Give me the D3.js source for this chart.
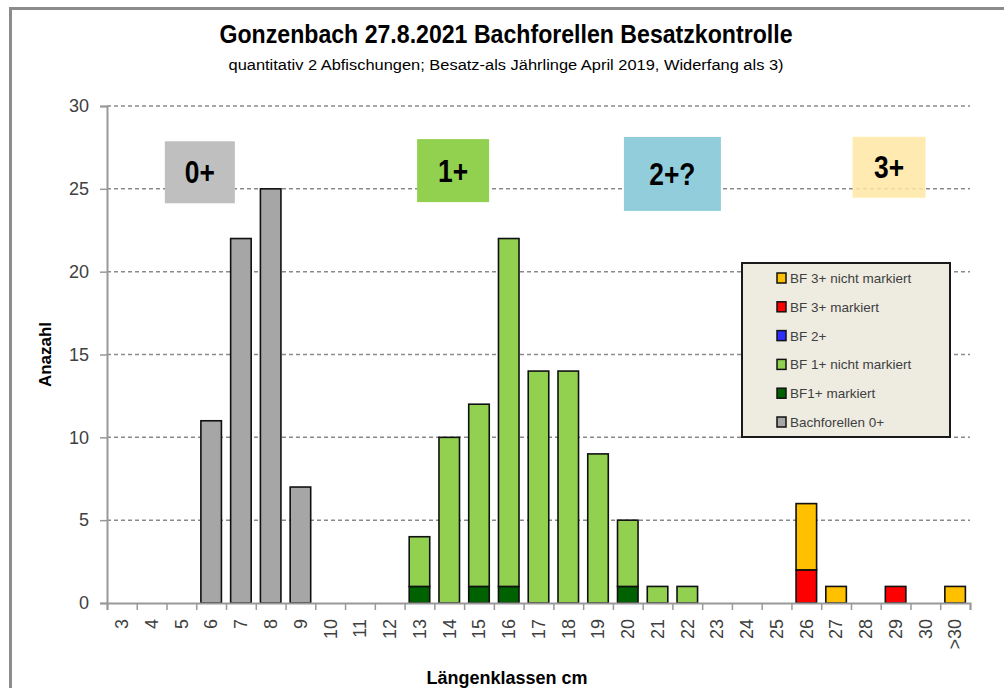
<!DOCTYPE html>
<html>
<head>
<meta charset="utf-8">
<script src="https://cdn.jsdelivr.net/npm/d3@7"></script>
<style>
  body { margin: 0; background: #fff; }
  text { font-family: "Liberation Sans", Arial, sans-serif; }
</style>
</head>
<body>
<div id="chart"></div>
<script>
const categories = ["3","4","5","6","7","8","9","10","11","12","13","14","15","16","17","18","19","20","21","22","23","24","25","26","27","28","29","30",">30"];
const bf0     = [0,0,0,11,22,25,7,0,0,0,0,0,0,0,0,0,0,0,0,0,0,0,0,0,0,0,0,0,0];
const bf1Mark = [0,0,0,0,0,0,0,0,0,0,1,0,1,1,0,0,0,1,0,0,0,0,0,0,0,0,0,0,0];
const bf1Nm   = [0,0,0,0,0,0,0,0,0,0,3,10,11,21,14,14,9,4,1,1,0,0,0,0,0,0,0,0,0];
const bf2     = [0,0,0,0,0,0,0,0,0,0,0,0,0,0,0,0,0,0,0,0,0,0,0,0,0,0,0,0,0];
const bf3Mark = [0,0,0,0,0,0,0,0,0,0,0,0,0,0,0,0,0,0,0,0,0,0,0,2,0,0,1,0,0];
const bf3Nm   = [0,0,0,0,0,0,0,0,0,0,0,0,0,0,0,0,0,0,0,0,0,0,0,4,1,0,0,0,1];
const seriesNames = ["Bachforellen 0+","BF1+ markiert","BF 1+ nicht markiert","BF 2+","BF 3+ markiert","BF 3+ nicht markiert"];
const seriesColors = ["#a6a6a6","#006100","#92d050","#2e2eff","#ff0000","#ffc000"];
const yTicks = [0,5,10,15,20,25,30];
// age group boxes: label, centre in category units, centre value, colour
const ageLabels = ["0+","1+","2+?","3+"];
const agePos = [3.12, 11.63, 19.0, 26.28];
const ageVal = [26.0, 26.1, 25.9, 26.3];
const ageSize = [[70,62],[72,63],[97,74],[73,61]];
const ageColors = ["#bfbfbf","#92d050","#92cddc","#ffe8a3"];

const width = 1004, height = 688;
const margin = {left: 107, right: 34, top: 106, bottom: 85};

const svg = d3.select("#chart").append("svg")
  .attr("width", width).attr("height", height);

// outer chart frame
svg.append("rect")
  .attr("x", 10.5).attr("y", 8.5)
  .attr("width", width + 20).attr("height", height + 20)
  .attr("fill", "#fff").attr("stroke", "#8c8c8c").attr("stroke-width", 3);

const table = categories.map((c, i) => ({
  cat: c,
  "Bachforellen 0+": bf0[i],
  "BF1+ markiert": bf1Mark[i],
  "BF 1+ nicht markiert": bf1Nm[i],
  "BF 2+": bf2[i],
  "BF 3+ markiert": bf3Mark[i],
  "BF 3+ nicht markiert": bf3Nm[i]
}));

const x = d3.scaleBand().domain(categories)
  .range([margin.left, width - margin.right]).paddingInner(0.31).paddingOuter(0.155);
const xi = d3.scaleLinear().domain([0, categories.length])
  .range([margin.left, width - margin.right]);
const y = d3.scaleLinear().domain([0, 30]).range([height - margin.bottom, margin.top]);
const color = d3.scaleOrdinal().domain(seriesNames).range(seriesColors);

// gridlines
svg.append("g").selectAll("line")
  .data(yTicks.filter(d => d > 0))
  .join("line")
  .attr("x1", margin.left).attr("x2", width - margin.right)
  .attr("y1", d => y(d)).attr("y2", d => y(d))
  .attr("stroke", "#8a8a8a").attr("stroke-width", 1.5)
  .attr("stroke-dasharray", "4,3");

// age group boxes
const boxes = svg.append("g").selectAll("g")
  .data(ageLabels).join("g");
boxes.append("rect")
  .attr("x", (d, i) => xi(agePos[i]) - ageSize[i][0] / 2)
  .attr("y", (d, i) => y(ageVal[i]) - ageSize[i][1] / 2)
  .attr("width", (d, i) => ageSize[i][0])
  .attr("height", (d, i) => ageSize[i][1])
  .attr("fill", (d, i) => ageColors[i])
  .attr("fill-opacity", (d, i) => i === 3 ? 0.85 : 1);
boxes.append("text")
  .attr("x", (d, i) => xi(agePos[i]))
  .attr("y", (d, i) => y(ageVal[i]) + 11)
  .attr("text-anchor", "middle")
  .attr("font-size", 31).attr("font-weight", "bold")
  .attr("fill", "#000")
  .attr("transform", (d, i) => `translate(${xi(agePos[i])},0) scale(0.85,1) translate(${-xi(agePos[i])},0)`)
  .text(d => d);

// bars
const stacked = d3.stack().keys(seriesNames)(table);
svg.append("g").selectAll("g")
  .data(stacked).join("g")
  .attr("fill", d => color(d.key))
  .selectAll("rect")
  .data(d => d.filter(s => s[1] - s[0] > 0))
  .join("rect")
  .attr("x", d => x(d.data.cat))
  .attr("width", x.bandwidth())
  .attr("y", d => y(d[1]))
  .attr("height", d => y(d[0]) - y(d[1]))
  .attr("stroke", "#111").attr("stroke-width", 1.6);

// y axis
const gy = svg.append("g")
  .attr("transform", `translate(${margin.left},0)`)
  .call(d3.axisLeft(y).tickValues(yTicks).tickSize(7).tickPadding(11));
gy.select(".domain").attr("stroke", "#999").attr("stroke-width", 2);
gy.selectAll(".tick line").attr("stroke", "#999").attr("stroke-width", 1.5);
gy.selectAll(".tick text")
  .attr("font-family", "'Liberation Sans', Arial, sans-serif")
  .attr("font-size", 18).attr("fill", "#404040");

// x axis: boundary ticks
const gxt = svg.append("g")
  .attr("transform", `translate(0,${height - margin.bottom})`)
  .call(d3.axisBottom(xi).tickValues(d3.range(categories.length + 1)).tickSize(7).tickFormat(""));
gxt.select(".domain").attr("stroke", "#999").attr("stroke-width", 2);
gxt.selectAll(".tick line").attr("stroke", "#999").attr("stroke-width", 1.5);

// x axis: category labels
const gx = svg.append("g")
  .attr("transform", `translate(0,${height - margin.bottom})`)
  .call(d3.axisBottom(x).tickSize(0));
gx.select(".domain").remove();
gx.selectAll(".tick text")
  .attr("font-family", "'Liberation Sans', Arial, sans-serif")
  .attr("font-size", 18).attr("fill", "#404040")
  .attr("transform", "rotate(-90)")
  .attr("text-anchor", "end")
  .attr("dy", "0.35em")
  .attr("x", -16).attr("y", 0);

// titles
svg.append("text")
  .attr("x", 506).attr("y", 43)
  .attr("text-anchor", "middle")
  .attr("font-size", 26).attr("font-weight", "bold").attr("fill", "#000")
  .attr("textLength", 573).attr("lengthAdjust", "spacingAndGlyphs")
  .text("Gonzenbach  27.8.2021 Bachforellen Besatzkontrolle");
svg.append("text")
  .attr("x", 506).attr("y", 70)
  .attr("text-anchor", "middle")
  .attr("font-size", 15.5).attr("fill", "#000")
  .attr("textLength", 555).attr("lengthAdjust", "spacingAndGlyphs")
  .text("quantitativ 2 Abfischungen; Besatz-als Jährlinge April 2019, Widerfang als 3)");

svg.append("text")
  .attr("transform", `translate(51,${(y(0) + y(30)) / 2}) rotate(-90)`)
  .attr("text-anchor", "middle")
  .attr("font-size", 17).attr("font-weight", "bold").attr("fill", "#000")
  .text("Anazahl");

svg.append("text")
  .attr("x", 507).attr("y", 684)
  .attr("text-anchor", "middle")
  .attr("font-size", 18).attr("font-weight", "bold").attr("fill", "#000")
  .text("Längenklassen cm");

// legend
const lg = svg.append("g").attr("transform", "translate(742,263)");
lg.append("rect")
  .attr("width", 208).attr("height", 174)
  .attr("fill", "#eeece1").attr("stroke", "#1a1a1a").attr("stroke-width", 2);
const items = lg.selectAll("g.item")
  .data(seriesNames.slice().reverse())
  .join("g").attr("class", "item")
  .attr("transform", (d, i) => `translate(35,${15 + i * 28.8})`);
items.append("rect")
  .attr("x", 0).attr("y", -5).attr("width", 9).attr("height", 10)
  .attr("fill", d => color(d)).attr("stroke", "#111").attr("stroke-width", 1.5);
items.append("text")
  .attr("x", 13).attr("y", 5)
  .attr("font-size", 13.5).attr("fill", "#404040")
  .text(d => d);
</script>
</body>
</html>
